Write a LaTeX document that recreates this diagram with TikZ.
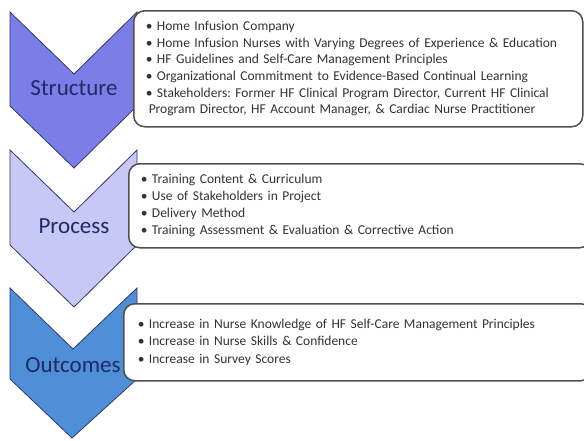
\documentclass[tikz,border=0pt]{standalone}
\usepackage{fontspec}
\setmainfont{Carlito}
\usetikzlibrary{positioning}
\frenchspacing

\definecolor{chevline}{HTML}{2E3A6E}
\definecolor{boxline}{HTML}{505050}
\definecolor{boxtext}{HTML}{333333}
\definecolor{labelnavy}{HTML}{1F2A66}

\tikzstyle{chevron}=[draw=chevline, line width=0.8pt, line join=miter]
\tikzstyle{infobox}=[draw=boxline, line width=1.5pt, fill=white,
      rounded corners=11pt, anchor=north west, inner ysep=0pt,
      align=left, text=boxtext]
\tikzstyle{steplabel}=[anchor=base, text=labelnavy,
      font=\fontsize{23}{26}\selectfont]

\begin{document}
\begin{tikzpicture}[x=1pt, y=-1pt]

\definecolor{structfill}{HTML}{7B7EE6}
\definecolor{processfill}{HTML}{C8C8F7}
\definecolor{outcomefill}{HTML}{4F8FD7}

\useasboundingbox (0,0) rectangle (584,440);
\clip (0,0) rectangle (584,440);

%% the three chevrons
\draw[chevron, fill=structfill]
  (10,12) -- (74,74) -- (137,12) -- (137,106) -- (74,168) -- (10,106) -- cycle;
\draw[chevron, fill=processfill]
  (10,150) -- (74,212) -- (137,150) -- (137,245) -- (74,307) -- (10,245) -- cycle;
\draw[chevron, fill=outcomefill]
  (10,288) -- (73,349) -- (137,288) -- (137,379) -- (72,438) -- (10,379) -- cycle;

%% the boxes
\node[infobox, inner xsep=12pt, text width=425pt, minimum height=116pt,
      font=\fontsize{13.5}{16.7}\selectfont] (structbox) at (133,10)
  {• Home Infusion Company\\
   • Home Infusion Nurses with Varying Degrees of Experience \& Education\\
   • HF Guidelines and Self-Care Management Principles\\
   • Organizational Commitment to Evidence-Based Continual Learning\\
   • Stakeholders: Former HF Clinical Program Director, Current HF Clinical\\
   \hspace*{3pt}Program Director, HF Account Manager, \& Cardiac Nurse Practitioner};

\node[infobox, inner xsep=12pt, text width=438pt, minimum height=84pt,
      font=\fontsize{13.5}{17}\selectfont] (processbox) at (128,163)
  {• Training Content \& Curriculum\\
   • Use of Stakeholders in Project\\
   • Delivery Method\\
   • Training Assessment \& Evaluation \& Corrective Action};

\node[infobox, inner xsep=14pt, text width=440pt, minimum height=77pt,
      font=\fontsize{13.5}{17.5}\selectfont] (outcomebox) at (123,303)
  {• Increase in Nurse Knowledge of HF Self-Care Management Principles\\
   • Increase in Nurse Skills \& Confidence\\
   • Increase in Survey Scores};

%% labels
\node[steplabel] (structure) at (74,95) {Structure};
\node[steplabel] (process) at (74,233) {Process};
\node[steplabel] (outcomes) at (73,372) {Outcomes};

\end{tikzpicture}
\end{document}
